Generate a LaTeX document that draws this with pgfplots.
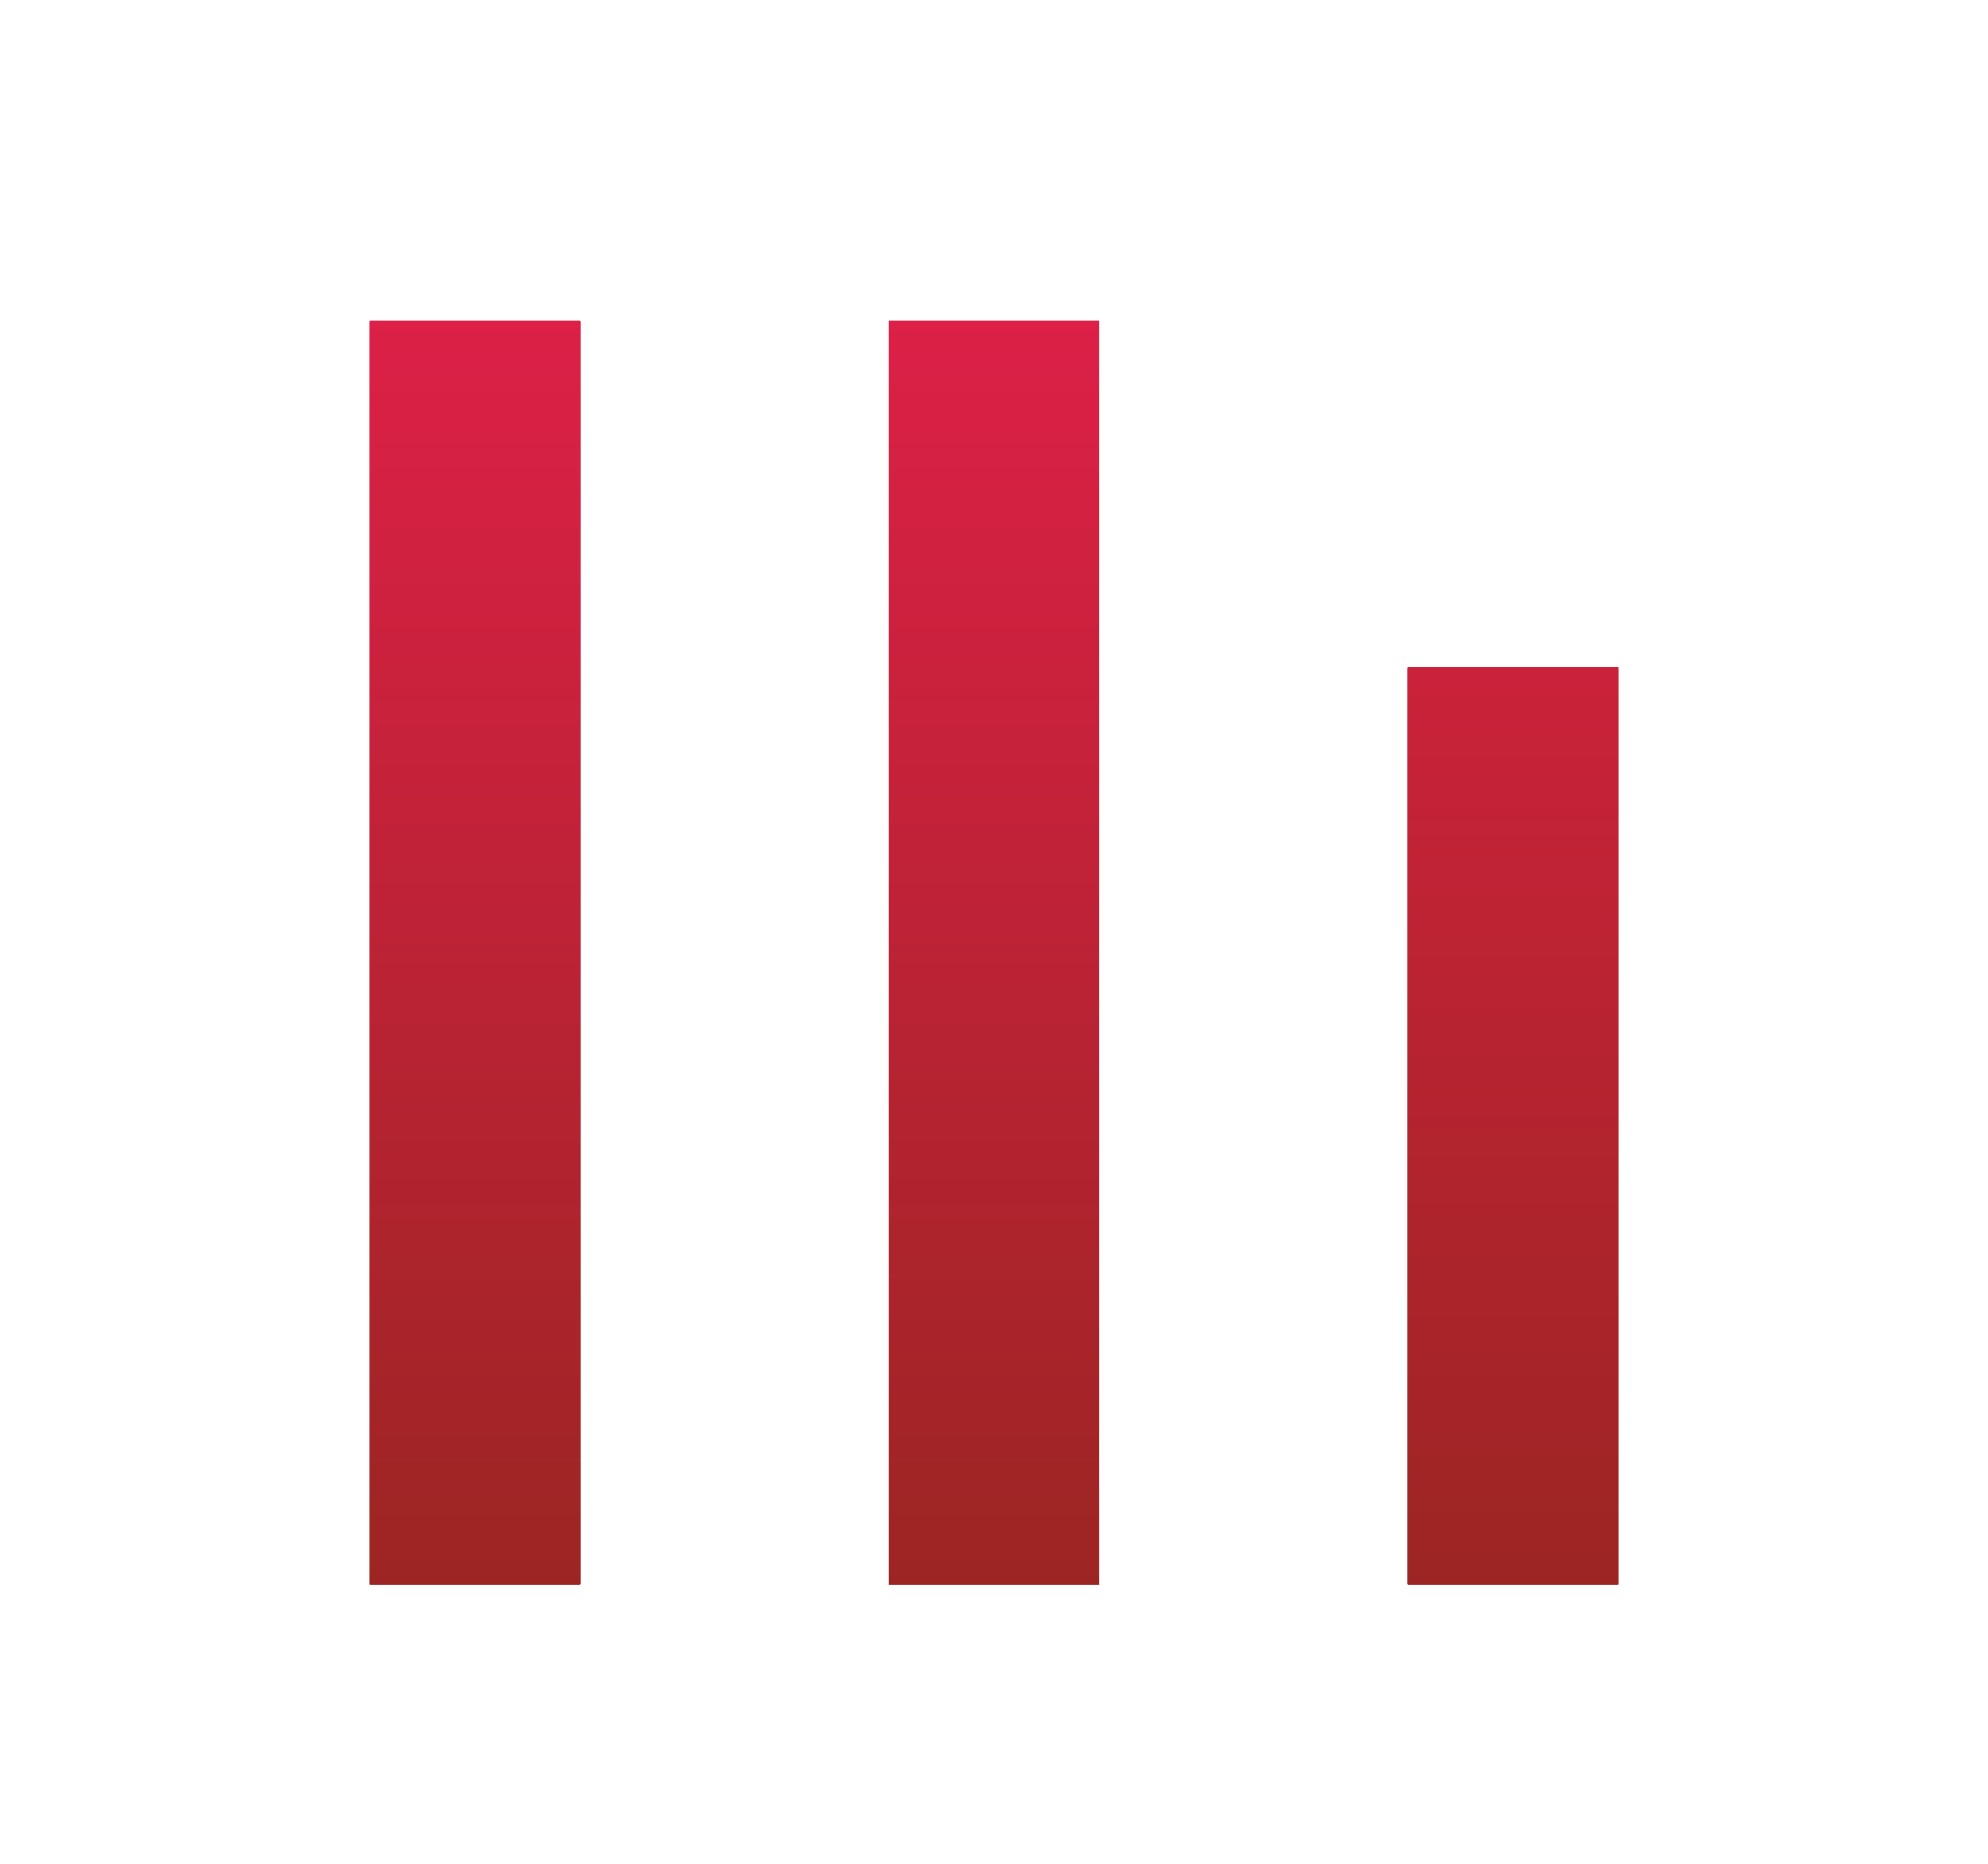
\documentclass[border=0pt]{standalone}
\usepackage{pgfplots}
\pgfplotsset{compat=1.18}
\definecolor{bartop}{RGB}{220,32,71}
\definecolor{barbot}{RGB}{156,37,35}
\definecolor{barmid}{RGB}{202,34,58}
\begin{document}
\begin{tikzpicture}
  \begin{axis}[
    scale only axis,
    width=12cm,
    height=11.25cm,
    axis line style={draw=none},
    xtick=\empty,
    ytick=\empty,
    xmin=-0.915, xmax=2.915,
    ymin=-22.16, ymax=125.4,
    ybar,
    bar width=1.27cm,
    bar shift=0pt,
  ]
    \addplot[draw=none, top color=bartop, bottom color=barbot] coordinates {(0,100)};
    \addplot[draw=none, top color=bartop, bottom color=barbot] coordinates {(1,100)};
    \addplot[draw=none, top color=barmid, bottom color=barbot] coordinates {(2,72.6)};
  \end{axis}
\end{tikzpicture}
\end{document}
